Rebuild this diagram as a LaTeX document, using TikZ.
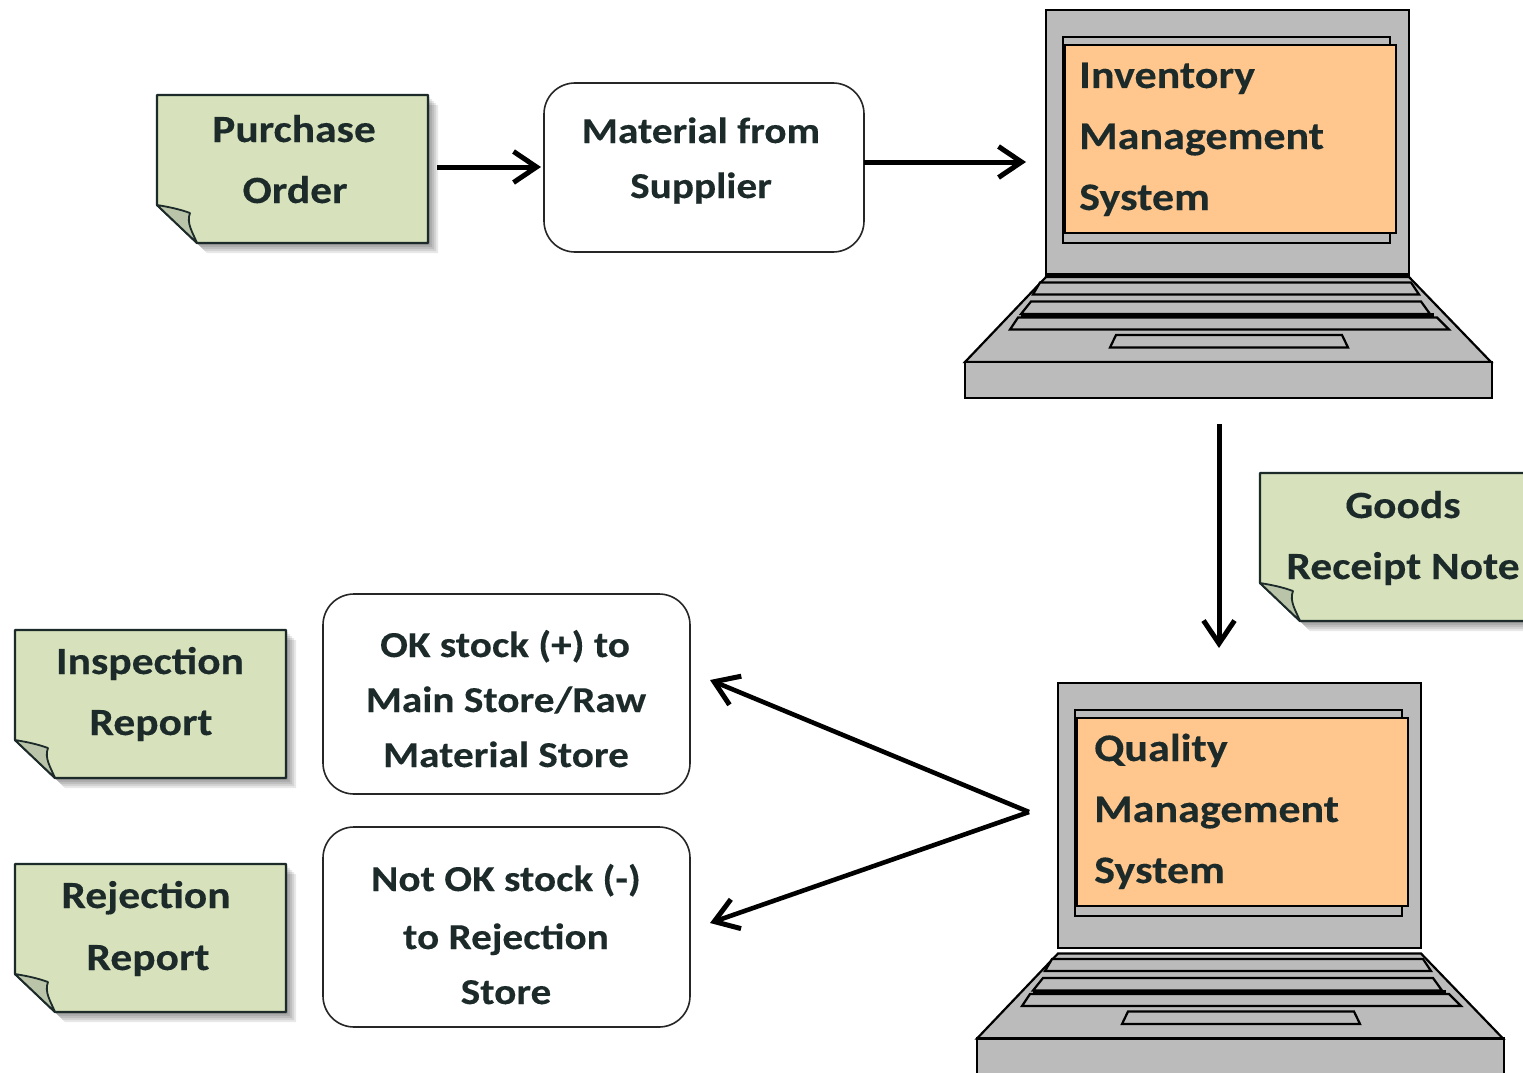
\documentclass[tikz,border=0pt]{standalone}
\usepackage{fontspec}
\setmainfont[BoldFeatures={FakeStretch=1.13,FakeBold=0.25}]{Carlito}
\usetikzlibrary{arrows.meta,fit,calc}
\definecolor{notegreen}{HTML}{D7E2BC}
\definecolor{foldgreen}{HTML}{B9C4A8}
\definecolor{screenorange}{HTML}{FFC78E}
\definecolor{laptopgray}{HTML}{BBBBBB}
\definecolor{inkdark}{HTML}{1C2A2A}
\tikzset{
  x=1pt,y=-1pt,
  lapline/.style={draw=black,line width=2.2pt,line join=miter,fill=laptopgray},
  notefill/.style={draw=inkdark,line width=2.2pt,fill=notegreen,line join=round},
  foldshape/.style={draw=inkdark,line width=1.8pt,fill=foldgreen,line join=round},
  softshadow/.style={fill=black,fill opacity=0.09,draw=none},
  roundbox/.style={draw=black!85,line width=1.6pt,fill=white,rounded corners=31pt,inner sep=0pt,outer sep=0pt},
  areabox/.style={inner sep=0pt,outer sep=0pt},
  flow/.style={draw=black,line width=5pt,-{Straight Barb[length=23pt,width=31pt,line width=5pt]}},
}
\newcommand{\textline}[5]{\node[anchor=base,inner sep=0pt,text=inkdark] (#1) at (#2,#3) {\fontsize{#4}{#4}\bfseries\selectfont #5};}
\newcommand{\flushline}[5]{\node[anchor=base west,inner sep=0pt,text=inkdark] (#1) at (#2,#3) {\fontsize{#4}{#4}\bfseries\selectfont #5};}
\newcommand{\notebox}[5]{%
  \foreach \s in {2,4,6,8,10}{
    \path[softshadow] (#2+\s,#3+\s) -- (#4+\s,#3+\s) -- (#4+\s,#5+\s) -- (#2+40+\s,#5+\s) -- (#2+\s,#5-38+\s) -- cycle;
  }
  \path[notefill] (#2,#3) -- (#4,#3) -- (#4,#5) -- (#2+40,#5) -- (#2,#5-38) -- cycle;
  \path[foldshape] (#2,#5-38) .. controls (#2+12,#5-36) and (#2+22,#5-34) .. (#2+33,#5-30) .. controls (#2+29,#5-20) and (#2+36,#5-10) .. (#2+40,#5) -- cycle;
  \coordinate (#1a) at (#2,#3);
  \coordinate (#1b) at (#4,#5);
  \node[areabox,fit=(#1a)(#1b)] (#1) {};
}
\newcommand{\roundrect}[5]{%
  \coordinate (#1a) at (#2,#3);
  \coordinate (#1b) at (#4,#5);
  \node[roundbox,fit=(#1a)(#1b)] (#1) {};
}
% name, dx, dy of the screen, extra dy of the base
\newcommand{\laptop}[4]{%
  \begin{scope}[shift={(#2,#3+#4)}]
    % base top surface
    \path[lapline] (1046,277) -- (1409,277) -- (1491,362) -- (965,362) -- cycle;
    % keyboard rows
    \path[lapline] (1040,282.5) -- (1411,282.5) -- (1419,294.5) -- (1033,294.5) -- cycle;
    \path[lapline] (1031,301.5) -- (1421,301.5) -- (1430,314) -- (1021,314) -- cycle;
    \path[lapline] (1018,317.5) -- (1437,317.5) -- (1449,329.5) -- (1010,329.5) -- cycle;
    \draw[black,line width=4.2pt] (1021,315.5) -- (1434,315.5);
    % touch pad
    \path[lapline] (1116,335) -- (1342,335) -- (1348,347.5) -- (1110,347.5) -- cycle;
    % front edge
    \path[lapline] (965,362) rectangle (1492,398);
    \coordinate (#1ba) at (965,362);
    \coordinate (#1bb) at (1492,398);
    \node[areabox,fit=(#1ba)(#1bb)] (#1base) {};
  \end{scope}
  \begin{scope}[shift={(#2,#3)}]
    % screen
    \path[lapline] (1046,10) rectangle (1409,275);
    \path[lapline] (1063,37) rectangle (1390,243);
    \path[draw=black,line width=2.2pt,fill=screenorange] (1065,45) rectangle (1396,233);
    \coordinate (#1sa) at (1046,10);
    \coordinate (#1sb) at (1409,275);
    \node[areabox,fit=(#1sa)(#1sb)] (#1) {};
  \end{scope}
}
\begin{document}
\begin{tikzpicture}
\useasboundingbox (0,0) rectangle (1523,1073);
\clip (0,0) rectangle (1523,1073);
\fill[white] (0,0) rectangle (1523,1073);

% notes
\notebox{po}{157}{95}{428}{243}
\notebox{grn}{1260}{473}{1540}{621}
\notebox{insp}{15}{630}{286}{778}
\notebox{rej}{15}{864}{286}{1012}

% rounded boxes
\roundrect{mat}{544}{83}{864}{252}
\roundrect{okbox}{323}{594}{690}{794}
\roundrect{nokbox}{323}{827}{690}{1027}

% laptops
\laptop{ims}{0}{0}{0}
\draw[black,line width=4.5pt] (1046,275) -- (1409,275);
\laptop{qms}{12}{673}{3.5}

% labels
\textline{t1}{294}{142}{38.5}{Purchase}
\textline{t2}{295}{203}{38.5}{Order}
\textline{t3}{701}{143}{36.5}{Material from}
\textline{t4}{701}{198}{36.5}{Supplier}
\flushline{t5}{1079}{88}{39}{Inventory}
\flushline{t6}{1079}{149}{39}{Management}
\flushline{t7}{1079}{210}{39}{System}
\textline{t8}{1403}{518}{38.5}{Goods}
\textline{t9}{1403}{579}{38.5}{Receipt Note}
\textline{t10}{150}{674}{38.5}{Inspection}
\textline{t11}{151}{735}{38.5}{Report}
\textline{t12}{146}{908}{38.5}{Rejection}
\textline{t13}{148}{970}{38.5}{Report}
\textline{t14}{505}{657}{36.5}{OK stock (+) to}
\textline{t15}{506}{712}{36.5}{Main Store/Raw}
\textline{t16}{506}{767}{36.5}{Material Store}
\textline{t17}{506}{891}{36.5}{Not OK stock (-)}
\textline{t18}{506}{949}{36.5}{to Rejection}
\textline{t19}{506}{1004}{36.5}{Store}
\flushline{t20}{1094}{761}{39}{Quality}
\flushline{t21}{1094}{822}{39}{Management}
\flushline{t22}{1094}{883}{39}{System}

% connectors
\draw[flow,shorten <=9pt,shorten >=3pt] (po.east |- 0,167) -- (mat.west |- 0,167);
\draw[flow,shorten >=20pt] (mat.east |- 0,162) -- (ims.west |- 0,162);
\draw[flow,shorten <=26pt,shorten >=35pt] (imsbase.south -| 1219,0) -- (qms.north -| 1219,0);
\coordinate (fork) at ($(qms.west |- 0,812)+(-29,0)$);
\coordinate (oktip) at ($(okbox.east)+(20,-14)$);
\coordinate (noktip) at ($(nokbox.east)+(20,-4)$);
\draw[flow,line width=4.6pt] (fork) -- (oktip);
\draw[flow,line width=4.6pt] (fork) -- (noktip);
\end{tikzpicture}
\end{document}
